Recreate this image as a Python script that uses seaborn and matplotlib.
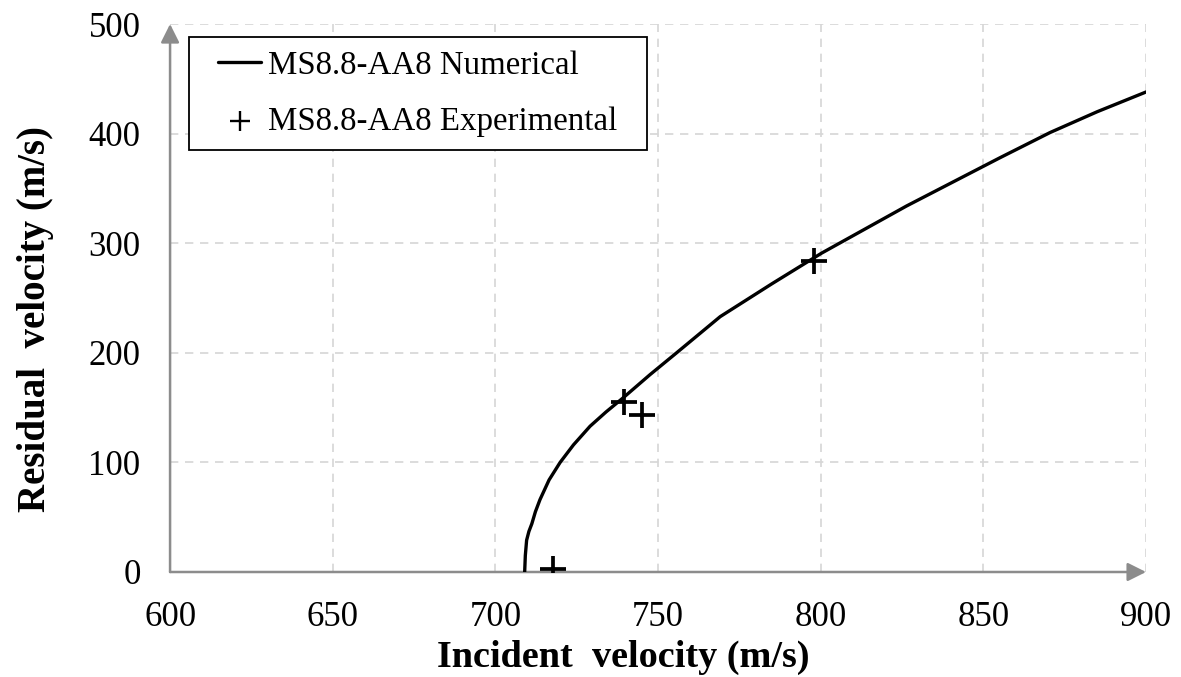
import matplotlib
matplotlib.use("Agg")
import matplotlib.pyplot as plt
import seaborn as sns
import pandas as pd
from matplotlib.lines import Line2D
from matplotlib.collections import PathCollection
from matplotlib.legend_handler import HandlerLine2D, HandlerPathCollection

# Numerical curve
num_incident = [709, 709.2, 709.6, 710.3, 711.2, 712.3, 713.7, 716.5, 719.9, 724, 729.1,
                734, 739.3, 747.5, 755.7, 769.1, 785, 800.3, 826.4, 855.1, 870.5, 885, 900]
num_residual = [0, 15, 29, 37, 44, 55, 66, 84, 100, 116, 133,
                146, 159, 180, 200, 233, 263, 291, 334, 378, 401, 420, 438]

# Experimental points
exp_incident = [717.8, 739.5, 745, 797.8]
exp_residual = [3, 155, 143, 284]

x_ticks = [600, 650, 700, 750, 800, 850, 900]
y_ticks = [0, 100, 200, 300, 400, 500]

sns.set_style("white")
plt.rcParams['font.family'] = ['Liberation Serif', 'DejaVu Serif']
plt.rcParams['text.color'] = 'black'
plt.rcParams['axes.labelcolor'] = 'black'
plt.rcParams['xtick.color'] = 'black'
plt.rcParams['ytick.color'] = 'black'

fig = plt.figure(figsize=(11.81, 6.77), dpi=100)
ax = fig.add_axes([0.144, 0.1551, 0.8264, 0.8094])

num_df = pd.DataFrame({"x": num_incident, "y": num_residual})
exp_df = pd.DataFrame({"x": exp_incident, "y": exp_residual})

sns.lineplot(data=num_df, x="x", y="y", sort=False, estimator=None, color="black",
             linewidth=2.4, ax=ax, label="MS8.8-AA8 Numerical", zorder=4)
sns.scatterplot(data=exp_df, x="x", y="y", marker="+", s=330, color="black",
                linewidth=2.7, ax=ax, label="MS8.8-AA8 Experimental", zorder=5)

ax.set_xlim(600, 900)
ax.set_ylim(0, 500)
ax.set_xticks(x_ticks)
ax.set_yticks(y_ticks)
ax.set_xticklabels([str(v) for v in x_ticks])
ax.set_yticklabels([str(v) for v in y_ticks])

for s in ax.spines.values():
    s.set_visible(False)

ax.grid(True, color="#d6d6d6", linestyle=(0, (5, 4)), linewidth=1.2)
ax.set_axisbelow(True)

ax.tick_params(axis="both", which="major", direction="out", length=7.2, width=1.2,
               color="#8c8c8c", labelcolor="black", labelsize=25)
ax.tick_params(axis="x", pad=14)
ax.tick_params(axis="y", pad=14)

# gray axes with arrow heads
ax.annotate("", xy=(0, 1.0), xytext=(0, 0), xycoords="axes fraction",
            arrowprops=dict(arrowstyle="-|>", color="#8c8c8c", lw=1.8,
                            mutation_scale=28, shrinkA=0, shrinkB=0), zorder=3)
ax.annotate("", xy=(1.0, 0), xytext=(0, 0), xycoords="axes fraction",
            arrowprops=dict(arrowstyle="-|>", color="#8c8c8c", lw=1.8,
                            mutation_scale=28, shrinkA=0, shrinkB=0), zorder=3)

ax.set_xlabel("Incident  velocity (m/s)", fontsize=27.5, fontweight="bold", color="black")
ax.set_ylabel("Residual  velocity (m/s)", fontsize=28, fontweight="bold", color="black")
ax.xaxis.set_label_coords(0.4647, -0.124)
ax.yaxis.set_label_coords(-0.119, 0.462)

handles, labels = ax.get_legend_handles_labels()
leg = ax.legend(handles, labels, loc="upper left",
                bbox_to_anchor=(0.0195, 0.5, 0.469, 0.476), mode="expand",
                borderaxespad=0, fontsize=23.7, frameon=True, fancybox=False,
                handlelength=1.78, handletextpad=0.22, borderpad=0.4,
                labelspacing=0.77,
                handler_map={Line2D: HandlerLine2D(xpad=0.49),
                             PathCollection: HandlerPathCollection(xpad=0.49)})
leg.get_frame().set_edgecolor("black")
leg.get_frame().set_linewidth(1.3)
leg.get_frame().set_alpha(1)
mh = leg.legend_handles[1]
mh.set_sizes([190])
mh.set_linewidth(1.7)

fig.savefig("out.png", dpi=100)
